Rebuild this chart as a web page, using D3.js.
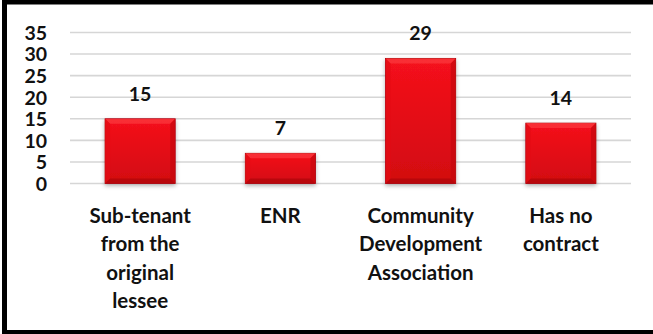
<!DOCTYPE html>
<html>
<head>
<meta charset="utf-8">
<script src="https://cdn.jsdelivr.net/npm/d3@7"></script>
<style>
  html, body { margin: 0; padding: 0; background: #fff; }
  svg { display: block; }
  text { font-family: Lato, "Open Sans", sans-serif; font-weight: 700; fill: #111; }
</style>
</head>
<body>
<svg id="chart" width="653" height="334"></svg>
<script>
// Contract types and number of respondents per type
const categories = [
  ["Sub-tenant", "from the", "original", "lessee"],
  ["ENR"],
  ["Community", "Development", "Association"],
  ["Has no", "contract"]
];
const counts = [15, 7, 29, 14];
const yTicks = [0, 5, 10, 15, 20, 25, 30, 35];

const W = 653, H = 334;
const margin = { top: 32.5, right: 22, bottom: 150.5, left: 70 };

const svg = d3.select("#chart");

const defs = svg.append("defs");
const face = defs.append("linearGradient").attr("id", "face")
  .attr("x1", 0).attr("y1", 0).attr("x2", 0).attr("y2", 1);
face.append("stop").attr("offset", "0%").attr("stop-color", "#f5121b");
face.append("stop").attr("offset", "100%").attr("stop-color", "#d20910");

const shadow = defs.append("filter").attr("id", "shadow")
  .attr("x", "-20%").attr("y", "-20%").attr("width", "140%").attr("height", "140%");
shadow.append("feDropShadow").attr("dx", 0).attr("dy", 2).attr("stdDeviation", 2)
  .attr("flood-color", "#000").attr("flood-opacity", 0.3);

const keys = counts.map((d, i) => i);
const x = d3.scaleBand()
  .domain(keys)
  .range([margin.left, W - margin.right])
  .paddingInner(0.5)
  .paddingOuter(0.25);

const y = d3.scaleLinear()
  .domain([0, 35])
  .range([H - margin.bottom, margin.top]);

// Horizontal gridlines
svg.append("g")
  .selectAll("line")
  .data(yTicks)
  .join("line")
  .attr("x1", margin.left)
  .attr("x2", W - margin.right)
  .attr("y1", d => y(d))
  .attr("y2", d => y(d))
  .attr("stroke", "#d6d6d6")
  .attr("stroke-width", 1.6);

// Y axis labels
const yAxis = d3.axisLeft(y).tickValues(yTicks).tickSize(0).tickPadding(0);
const gy = svg.append("g")
  .attr("transform", `translate(47,0)`)
  .call(yAxis);
gy.select(".domain").remove();
gy.selectAll("text")
  .attr("font-size", 19.5)
  .attr("font-family", null)
  .attr("dy", "0.35em")
  .style("fill", "#111");

// Bars with bevelled edges
const bev = 5;
const bars = svg.append("g").selectAll("g.bar")
  .data(counts)
  .join("g")
  .attr("class", "bar");

bars.append("rect")
  .attr("x", (d, i) => x(i))
  .attr("y", d => y(d))
  .attr("width", x.bandwidth())
  .attr("height", d => y(0) - y(d))
  .attr("fill", "url(#face)")
  .attr("stroke", "#a8070c")
  .attr("stroke-width", 0.8)
  .attr("filter", "url(#shadow)");

function bevelPoly(i, d, side) {
  const x0 = x(i), x1 = x(i) + x.bandwidth();
  const y0 = y(d), y1 = y(0);
  const ix0 = x0 + bev, ix1 = x1 - bev, iy0 = y0 + bev, iy1 = y1 - bev;
  const pts = {
    top: [[x0, y0], [x1, y0], [ix1, iy0], [ix0, iy0]],
    left: [[x0, y0], [ix0, iy0], [ix0, iy1], [x0, y1]],
    right: [[x1, y0], [x1, y1], [ix1, iy1], [ix1, iy0]],
    bottom: [[x0, y1], [ix0, iy1], [ix1, iy1], [x1, y1]]
  };
  return pts[side].map(p => p.join(",")).join(" ");
}
const bevelFill = { top: "#fb3a40", left: "#e30c14", right: "#c4070d", bottom: "#ad060b" };
["top", "left", "right", "bottom"].forEach(side => {
  bars.append("polygon")
    .attr("points", (d, i) => bevelPoly(i, d, side))
    .attr("fill", bevelFill[side])
    .attr("opacity", 0.7);
});

// Value labels above bars
svg.append("g").selectAll("text")
  .data(counts)
  .join("text")
  .attr("x", (d, i) => x(i) + x.bandwidth() / 2)
  .attr("y", d => y(d) - 18)
  .attr("text-anchor", "middle")
  .attr("font-size", 19.5)
  .text(d => d);

// Category labels (multi-line)
const cat = svg.append("g").selectAll("text")
  .data(categories)
  .join("text")
  .attr("text-anchor", "middle")
  .attr("font-size", 20.5);
cat.each(function (lines, i) {
  d3.select(this).selectAll("tspan")
    .data(lines)
    .join("tspan")
    .attr("x", x(i) + x.bandwidth() / 2)
    .attr("y", (l, k) => y(0) + 39.5 + k * 28.3)
    .text(l => l);
});

// Outer frame
svg.append("rect")
  .attr("x", 4.5).attr("y", 2)
  .attr("width", 700).attr("height", 330.5)
  .attr("fill", "none")
  .attr("stroke", "#000")
  .attr("stroke-width", 5);
</script>
</body>
</html>
